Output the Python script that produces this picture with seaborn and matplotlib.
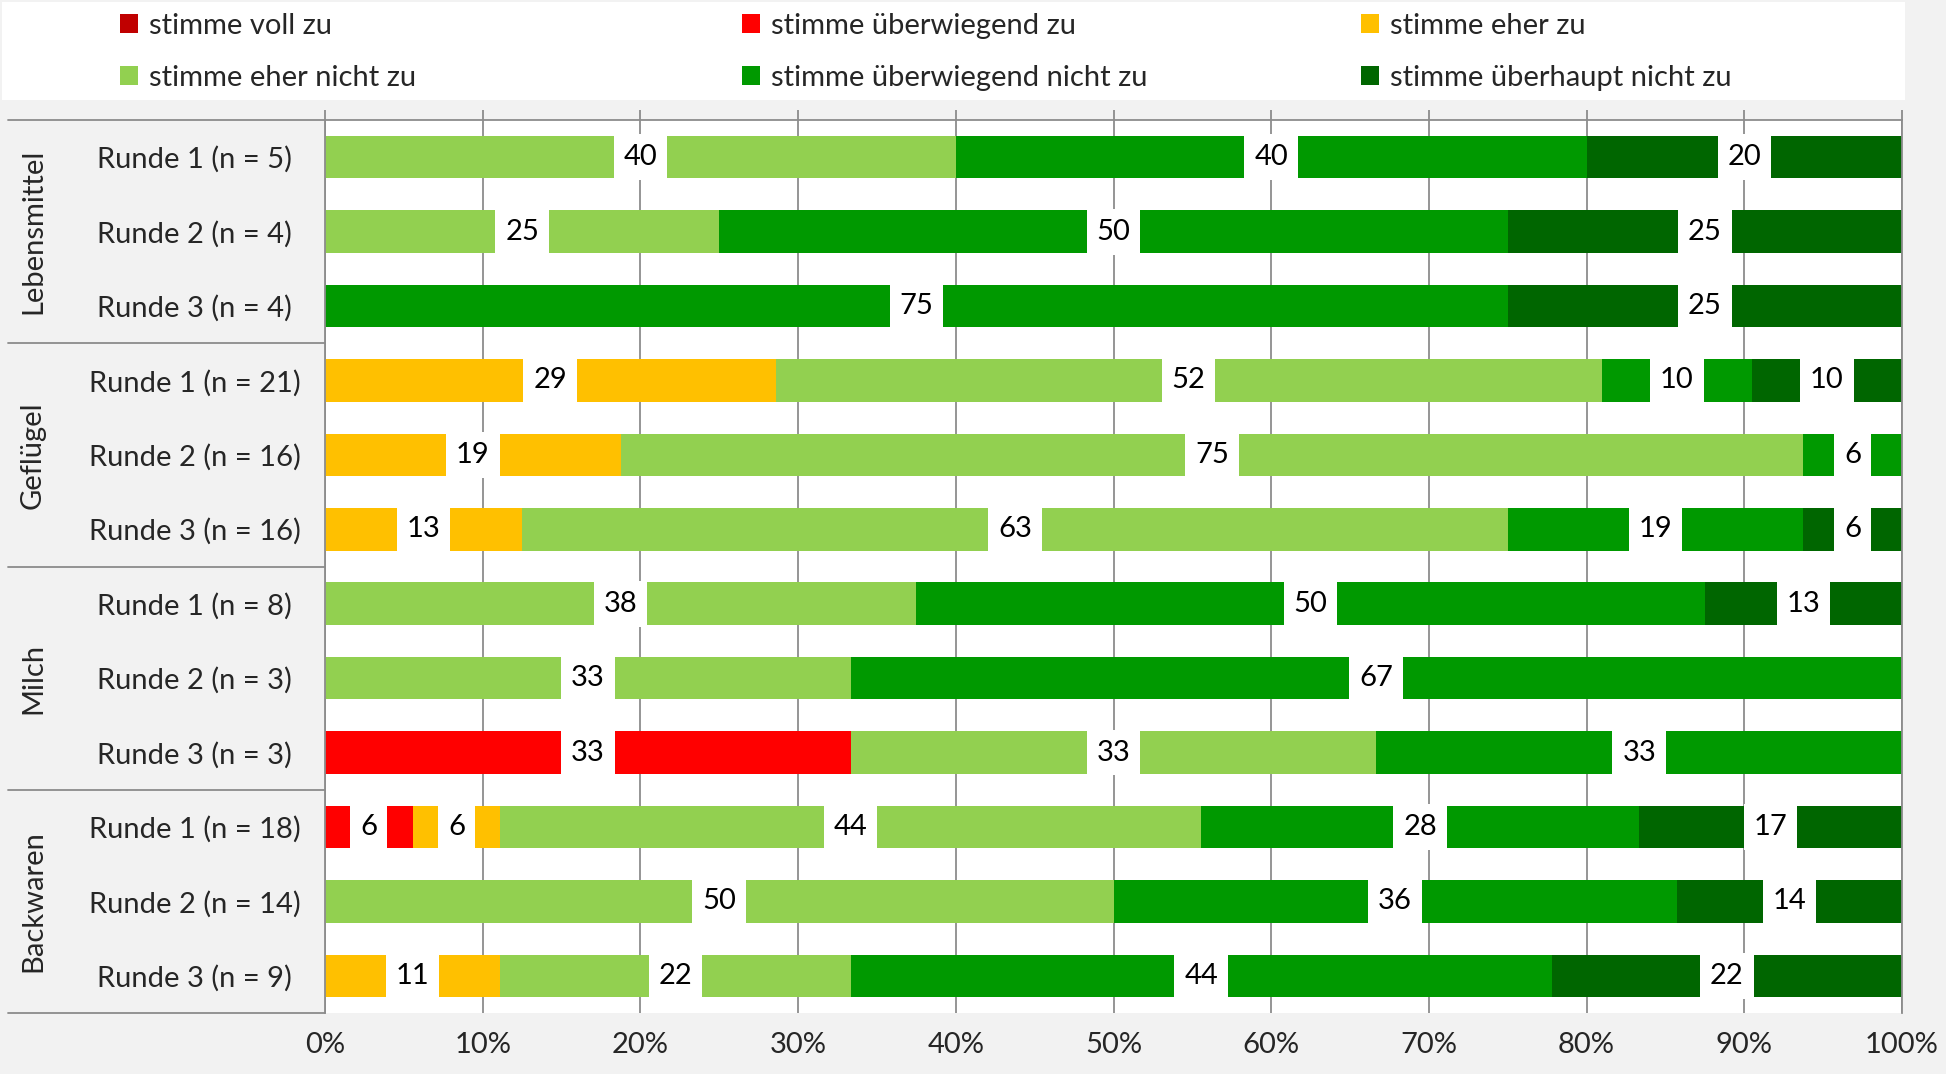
import numpy as np
import pandas as pd
import matplotlib.pyplot as plt
import matplotlib.transforms as mtransforms
from matplotlib.patches import Patch, Rectangle
import seaborn as sns

sns.set_theme(style="white")
plt.rcParams['font.family'] = ['Lato', 'DejaVu Sans']

groups = ["Lebensmittel", "Geflügel", "Milch", "Backwaren"]
rounds = ["Runde 1", "Runde 2", "Runde 3"]
n_obs = [5, 4, 4, 21, 16, 16, 8, 3, 3, 18, 14, 9]

answers = ["stimme voll zu", "stimme überwiegend zu", "stimme eher zu",
           "stimme eher nicht zu", "stimme überwiegend nicht zu",
           "stimme überhaupt nicht zu"]
colors = ["#C00000", "#FF0000", "#FFC000", "#92D050", "#009900", "#006600"]

# Anzahl Antworten je Zeile (Lebensmittel R1-R3, Geflügel R1-R3, Milch R1-R3, Backwaren R1-R3)
voll_zu = [0, 0, 0, 0, 0, 0, 0, 0, 0, 0, 0, 0]
ueberw_zu = [0, 0, 0, 0, 0, 0, 0, 0, 1, 1, 0, 0]
eher_zu = [0, 0, 0, 6, 3, 2, 0, 0, 0, 1, 0, 1]
eher_nicht = [2, 1, 0, 11, 12, 10, 3, 1, 1, 8, 7, 2]
ueberw_nicht = [2, 2, 3, 2, 1, 3, 4, 2, 1, 5, 5, 4]
ueberhaupt_nicht = [1, 1, 1, 2, 0, 1, 1, 0, 0, 3, 2, 2]

counts = [voll_zu, ueberw_zu, eher_zu, eher_nicht, ueberw_nicht, ueberhaupt_nicht]
FS = 21

# Tabelle aufbauen
rows = []
for gi, g in enumerate(groups):
    for ri, r in enumerate(rounds):
        rows.append((g, f"{r} (n = {n_obs[gi * 3 + ri]})"))
df = pd.DataFrame(rows, columns=["gruppe", "runde"])
df["key"] = df["gruppe"] + "|" + df["runde"]
n = np.array(n_obs, dtype=float)
pct = np.array([np.array(c) / n * 100 for c in counts])   # 6 x 12
cum = np.cumsum(pct, axis=0)
for k in range(len(answers)):
    df[f"cum{k}"] = cum[k]

fig = plt.figure(figsize=(19.46, 10.74), dpi=100, facecolor="#F2F2F2")
W, H = 1946, 1074
ax = fig.add_axes([325 / W, 1 - 1013 / H, (1902 - 325) / W, (1013 - 120) / H])
ax.set_facecolor("white")

# gestapelte Balken: kumulierte Werte von hinten nach vorne
for k in reversed(range(len(answers))):
    sns.barplot(data=df, x=f"cum{k}", y="key", order=list(df["key"]), orient="h",
                color=colors[k], saturation=1, width=0.57, linewidth=0,
                errorbar=None, ax=ax, zorder=2)

# Datenbeschriftungen
for i in range(len(df)):
    for k in range(len(answers)):
        if pct[k, i] > 0:
            left = cum[k, i] - pct[k, i]
            ax.text(left + pct[k, i] / 2, i, str(int(pct[k, i] + 0.5)),
                    ha="center", va="center", fontsize=FS, color="black", zorder=5,
                    bbox=dict(boxstyle="square,pad=0.34", fc="white", ec="none"))

grid_c = "#8C8C8C"
ax.set_xlim(0, 100)
ax.set_ylim(len(df) - 0.5, -0.5)
ax.set_xticks(np.arange(0, 101, 10))
ax.set_xticklabels([f"{v}%" for v in range(0, 101, 10)], fontsize=FS)
ax.grid(axis="x", color=grid_c, lw=1.3, zorder=0)
ax.grid(axis="y", visible=False)
ax.set_axisbelow(True)
ax.set_xlabel("")
ax.set_ylabel("")
ax.tick_params(axis="x", bottom=False, top=True, labeltop=False, labelbottom=True,
               length=7, width=1.3, color=grid_c, direction="out", pad=7)
ax.set_yticks(range(len(df)))
ax.set_yticklabels(df["runde"], fontsize=FS)
ax.tick_params(axis="y", length=0, pad=94)
for lbl in ax.get_yticklabels():
    lbl.set_ha("center")

for s in ["top", "left", "right"]:
    ax.spines[s].set_visible(True)
    ax.spines[s].set_color(grid_c)
    ax.spines[s].set_linewidth(1.3)
ax.spines["bottom"].set_visible(False)

# Gruppenachse links
x0 = (8 - 325) / (1902 - 325)
tr = mtransforms.blended_transform_factory(ax.transAxes, ax.transData)
for y in [-0.5, 2.5, 5.5, 8.5, 11.5]:
    ax.plot([x0, 0], [y, y], transform=tr, color=grid_c, lw=1.3, clip_on=False)
trf = mtransforms.blended_transform_factory(fig.transFigure, ax.transData)
for gi, g in enumerate(groups):
    ax.text(33 / W, gi * 3 + 1, g, transform=trf, rotation=90,
            ha="center", va="center", fontsize=FS)

# Legende
fig.patches.append(Rectangle((2 / W, 1 - 100 / H), 1903 / W, 98 / H,
                             transform=fig.transFigure, fc="white", ec="none", zorder=0))
handles = [Patch(facecolor=c, edgecolor="none") for c in colors]
order = [[0, 3], [1, 4], [2, 5]]
for xpx, idx in zip([120, 742, 1361], order):
    fig.legend([handles[j] for j in idx], [answers[j] for j in idx],
               loc="upper left", bbox_to_anchor=(xpx / W, 1 - 13 / H),
               frameon=False, fontsize=FS, borderpad=0, borderaxespad=0,
               handlelength=0.6, handleheight=0.6, handletextpad=0.4,
               labelspacing=0.88)

fig.savefig("out.png", dpi=100, facecolor=fig.get_facecolor())
